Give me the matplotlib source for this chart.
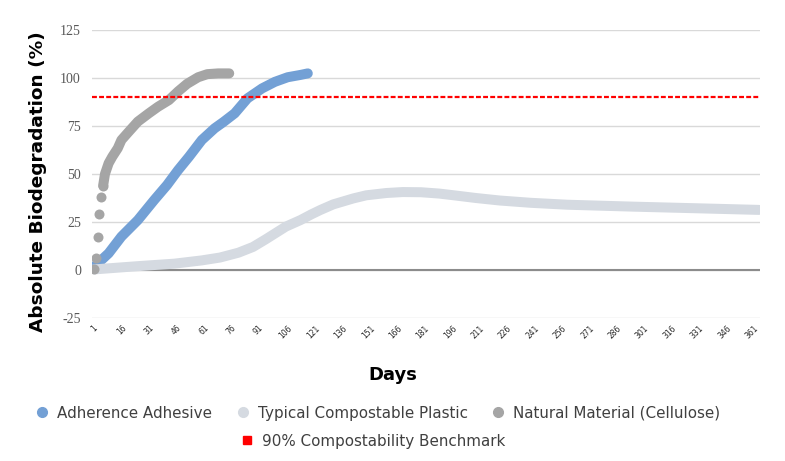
import numpy as np
import matplotlib.pyplot as plt
from matplotlib.lines import Line2D

# values (day, % biodegradation)
adhesive_days = [2, 9, 16, 25, 34, 41, 47, 53, 60, 67, 72, 78, 85, 93, 100, 107, 114, 118]
adhesive_vals = [2.5, 8.7, 17.4, 26, 36.5, 44.3, 52, 59, 67.7, 73.8, 77.2, 81.6, 89.4, 94.6, 98, 100.4, 101.6, 102.4]

plastic_days = [1, 25, 45, 60, 70, 80, 88, 95, 100, 106, 114, 120, 125, 132, 143, 150, 161, 170,
                180, 190, 198, 210, 223, 240, 260, 296, 333, 365]
plastic_vals = [0.3, 2.0, 3.3, 5, 6.5, 9, 12, 16, 19, 22.6, 26, 29, 31.3, 34.2, 37.3, 38.9, 40.1, 40.6,
                40.5, 39.8, 38.9, 37.5, 36.2, 35, 34, 33, 32.1, 31.3]

cellulose_days = [1, 2, 3, 4, 5, 6, 7, 9, 11, 14, 16, 20, 25, 31, 36, 42, 47, 52, 58, 63, 69, 75]
cellulose_vals = [0.5, 6, 17.4, 29, 38, 44, 50, 55.6, 59, 63.4, 67.7, 72, 77.3, 81.6, 85, 88.5, 93, 97, 100.4, 102, 102.4, 102.4]

benchmark = 90
tick_days = list(range(1, 362, 15))
yticks = [-25, 0, 25, 50, 75, 100, 125]

c_adh = "#73A0D5"
c_pla = "#D5DAE1"
c_cel = "#A5A5A5"
c_red = "#FF0000"

fig = plt.figure(figsize=(7.85, 4.61), dpi=100)
ax = fig.add_axes([92 / 785, 1 - 318 / 461, (760 - 92) / 785, (318 - 30) / 461])

ax.set_xlim(-0.1, 365.5)
ax.set_ylim(-25, 125)
ax.set_yticks(yticks)
ax.set_xticks(tick_days)
ax.set_xticklabels([str(d) for d in tick_days], rotation=45, ha="center",
                   fontsize=5.5, color="#262626")
ax.set_yticklabels([str(v) for v in yticks], fontfamily="Liberation Serif",
                   fontsize=10, color="#595959")
ax.tick_params(axis="both", length=0)
ax.tick_params(axis="y", pad=8)
ax.tick_params(axis="x", pad=4)
for s in ax.spines.values():
    s.set_visible(False)
ax.grid(axis="y", color="#D9D9D9", linewidth=1)
ax.set_axisbelow(True)
ax.axhline(0, color="#8C8C8C", linewidth=1.5, zorder=1)

lw = 7.2
ax.plot(adhesive_days, adhesive_vals, color=c_adh, lw=lw, solid_capstyle="round",
        solid_joinstyle="round", zorder=3)
ax.plot(plastic_days, plastic_vals, color=c_pla, lw=lw, solid_capstyle="round",
        solid_joinstyle="round", zorder=4)
ax.plot(cellulose_days[:6], cellulose_vals[:6], "o", color=c_cel, ms=lw,
        markeredgewidth=0, zorder=5)
ax.plot(cellulose_days[5:], cellulose_vals[5:], color=c_cel, lw=lw, solid_capstyle="round",
        solid_joinstyle="round", zorder=5)
ax.axhline(benchmark, color=c_red, lw=1.6, ls=(0, (2.2, 1.0)), zorder=6)

fig.text(38 / 785, 1 - 182 / 461, "Absolute Biodegradation (%)", rotation=90,
         ha="center", va="center", fontsize=13.3, fontweight="bold")
fig.text(0.5, 1 - 375 / 461, "Days", ha="center", va="center",
         fontsize=13, fontweight="bold")

h1 = [
    Line2D([], [], ls="", marker="o", ms=7, color=c_adh, label="Adherence Adhesive"),
    Line2D([], [], ls="", marker="o", ms=7, color=c_pla, label="Typical Compostable Plastic"),
    Line2D([], [], ls="", marker="o", ms=7, color=c_cel, label="Natural Material (Cellulose)"),
]
h2 = [Line2D([], [], ls="", marker="s", ms=5.5, color=c_red, label="90% Compostability Benchmark")]

leg1 = fig.legend(handles=h1, loc="center", bbox_to_anchor=(379 / 785, 1 - 413 / 461), ncol=3,
                  frameon=False, fontsize=10.9, handlelength=0.6, handletextpad=0.7,
                  columnspacing=1.7, labelcolor="#404040")
leg2 = fig.legend(handles=h2, loc="center", bbox_to_anchor=(374 / 785, 1 - 441 / 461), ncol=1,
                  frameon=False, fontsize=10.9, handlelength=0.6, handletextpad=0.7,
                  labelcolor="#404040")

plt.savefig("out.png", dpi=100)
